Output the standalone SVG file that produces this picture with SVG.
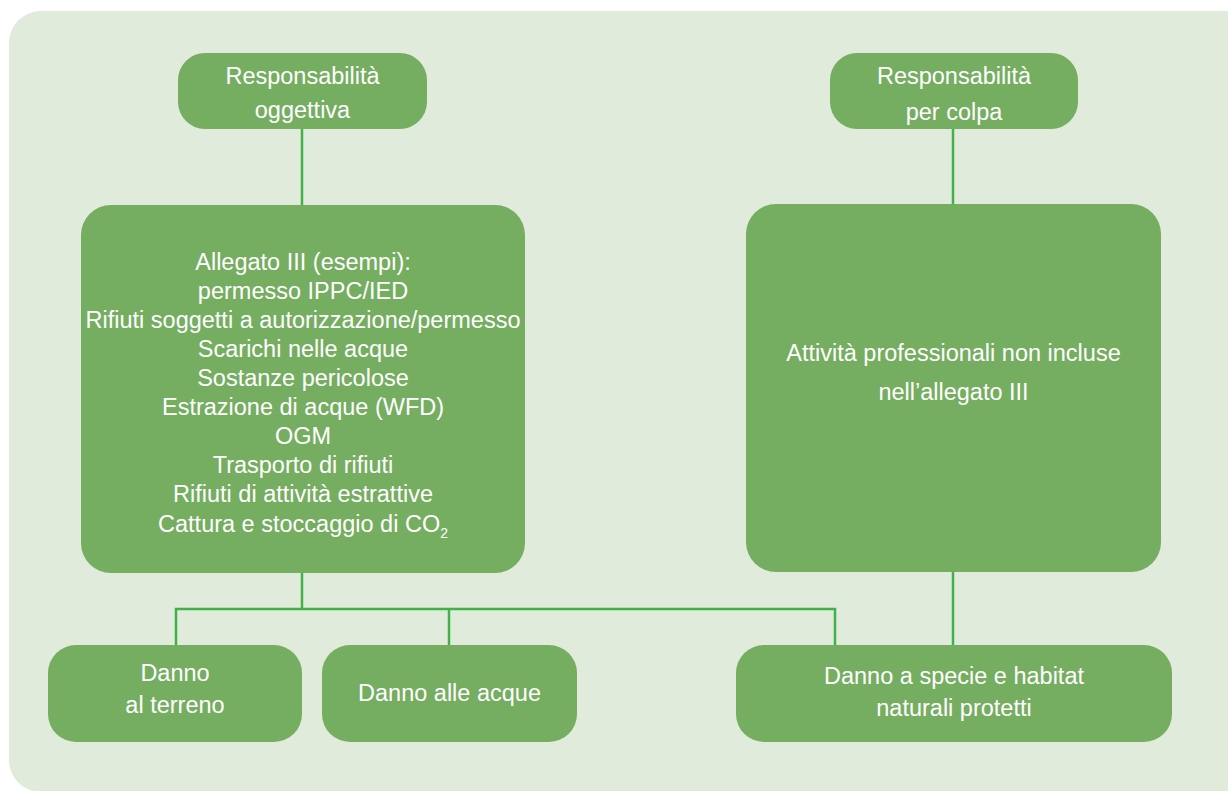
<svg xmlns="http://www.w3.org/2000/svg" width="1228" height="791" viewBox="0 0 1228 791">
<style>
.bg{fill:#e1ebdc}
.node{fill:#75ad61}
.t{font-family:"Liberation Sans",Arial,sans-serif;font-size:23.5px;fill:#ffffff;text-anchor:middle}
.c{fill:none;stroke:#3fb34a;stroke-width:2.5}
</style>
<rect class="bg" x="9" y="11" width="1260" height="781" rx="32"/>
<g id="connectors">
<path class="c" d="M302 129V205"/>
<path class="c" d="M953 129V204"/>
<path class="c" d="M302 573V609"/>
<path class="c" d="M176 645V609H835V645"/>
<path class="c" d="M449 609V645"/>
<path class="c" d="M953 572V645"/>
</g>
<g id="n-oggettiva">
<rect class="node" x="178" y="53" width="249" height="76" rx="27"/>
<text class="t" x="302.5" y="84">Responsabilità</text>
<text class="t" x="302.5" y="118">oggettiva</text>
</g>
<g id="n-colpa">
<rect class="node" x="830" y="53" width="248" height="76" rx="27"/>
<text class="t" x="954" y="84">Responsabilità</text>
<text class="t" x="954" y="120">per colpa</text>
</g>
<g id="n-allegato">
<rect class="node" x="81" y="205" width="444" height="368" rx="30"/>
<text class="t" x="303" y="270">Allegato III (esempi):</text>
<text class="t" x="303" y="299">permesso IPPC/IED</text>
<text class="t" x="303" y="328">Rifiuti soggetti a autorizzazione/permesso</text>
<text class="t" x="303" y="357">Scarichi nelle acque</text>
<text class="t" x="303" y="386">Sostanze pericolose</text>
<text class="t" x="303" y="415">Estrazione di acque (WFD)</text>
<text class="t" x="303" y="444">OGM</text>
<text class="t" x="303" y="473">Trasporto di rifiuti</text>
<text class="t" x="303" y="502">Rifiuti di attività estrattive</text>
<text class="t" x="303" y="532">Cattura e stoccaggio di CO<tspan font-size="14" dy="6">2</tspan></text>
</g>
<g id="n-attivita">
<rect class="node" x="746" y="204" width="415" height="368" rx="30"/>
<text class="t" x="953.5" y="361">Attività professionali non incluse</text>
<text class="t" x="953.5" y="400">nell’allegato III</text>
</g>
<g id="n-terreno">
<rect class="node" x="48" y="645" width="254" height="97" rx="28"/>
<text class="t" x="175" y="681">Danno</text>
<text class="t" x="175" y="713">al terreno</text>
</g>
<g id="n-acque">
<rect class="node" x="322" y="645" width="255" height="97" rx="28"/>
<text class="t" x="449.5" y="701">Danno alle acque</text>
</g>
<g id="n-specie">
<rect class="node" x="736" y="645" width="436" height="97" rx="28"/>
<text class="t" x="954" y="684">Danno a specie e habitat</text>
<text class="t" x="954" y="716">naturali protetti</text>
</g>
</svg>
